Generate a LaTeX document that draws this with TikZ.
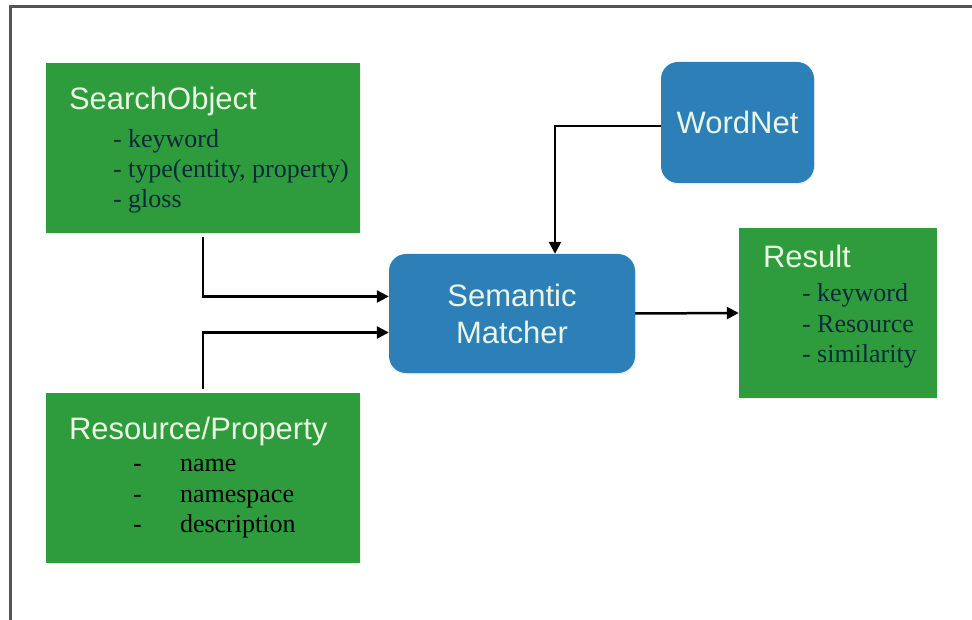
\documentclass[tikz,border=0pt]{standalone}
\usepackage{fontspec}
\setmainfont{Liberation Serif}
\setsansfont{Liberation Sans}
\usetikzlibrary{arrows.meta,shadows}

\definecolor{boxgreen}{HTML}{2E9B3D}
\definecolor{boxblue}{HTML}{2D7FB8}
\definecolor{titleink}{HTML}{EAF6E2}
\definecolor{itemink}{HTML}{0B2A3A}
\definecolor{framegray}{HTML}{555555}

\begin{document}
\begin{tikzpicture}[x=1pt, y=-1pt,
	greenbox/.style={draw=none, fill=boxgreen, minimum width=314pt, minimum height=170pt, inner sep=0pt,
		drop shadow={opacity=0.12, shadow xshift=0.8pt, shadow yshift=-1.2pt}},
	bluebox/.style={draw=none, fill=boxblue, rounded corners=17pt, text=titleink, align=center, inner sep=0pt,
		font=\sffamily\fontsize{31}{37}\selectfont,
		drop shadow={opacity=0.15, shadow xshift=0.8pt, shadow yshift=-1.5pt}},
	title/.style={anchor=base west, inner sep=0pt, text=titleink, font=\sffamily\fontsize{31}{37}\selectfont},
	item/.style={anchor=base west, inner sep=0pt, text=itemink, font=\fontsize{26}{30}\selectfont},
	flow/.style={draw=black, line width=2.5pt, -{Triangle[length=12pt, width=12pt]}}]

	\useasboundingbox (0,0) rectangle (972,620);
	\draw[framegray, line width=3pt] (10,625) -- (10,7) -- (980,7);

 \node[greenbox] (so) at (203,148) {};
 \node[greenbox] (rp) at (203,478) {};
 \node[greenbox, minimum width=198pt] (res) at (838,313) {};
 \node[bluebox, minimum width=246pt, minimum height=119pt] (sm) at (512,313.5) {Semantic\\Matcher};
 \node[bluebox, minimum width=153pt, minimum height=121pt] (wn) at (737.5,122.5) {WordNet};

 % search object
 \node[title] (sotitle) at ([xshift=23pt, yshift=-47pt]so.north west) {SearchObject};
 \foreach \txt [count=\i] in {- keyword, {- type(entity, property)}, - gloss}
 	\node[item] (soitem\i) at ([xshift=67pt, yshift={-85pt-30pt*(\i-1)}]so.north west) {\txt};

 % resource / property
 \node[title] (rptitle) at ([xshift=23pt, yshift=-47pt]rp.north west) {Resource/Property};
 \foreach \txt [count=\i] in {name, namespace, description} {
 	\node[item, text=black] (rpdash\i) at ([xshift=87pt, yshift={-79pt-30.5pt*(\i-1)}]rp.north west) {-};
 	\node[item, text=black] (rpitem\i) at ([xshift=134pt, yshift={-79pt-30.5pt*(\i-1)}]rp.north west) {\txt};
 }

 % result
 \node[title] (restitle) at ([xshift=24pt, yshift=-40pt]res.north west) {Result};
 \foreach \txt [count=\i] in {- keyword, - Resource, - similarity}
 	\node[item] (resitem\i) at ([xshift=63pt, yshift={-74pt-30.5pt*(\i-1)}]res.north west) {\txt};

 % connectors
 \draw[flow] ([yshift=-4pt]so.south) |- ([yshift=17pt]sm.west);
 \draw[flow] ([yshift=4pt]rp.north) |- ([yshift=-19pt]sm.west);
 \draw[flow] ([yshift=-3.5pt]wn.west) -| ([xshift=43pt]sm.north);
 \draw[flow] (sm.east) -- (res.west);
\end{tikzpicture}
\end{document}
